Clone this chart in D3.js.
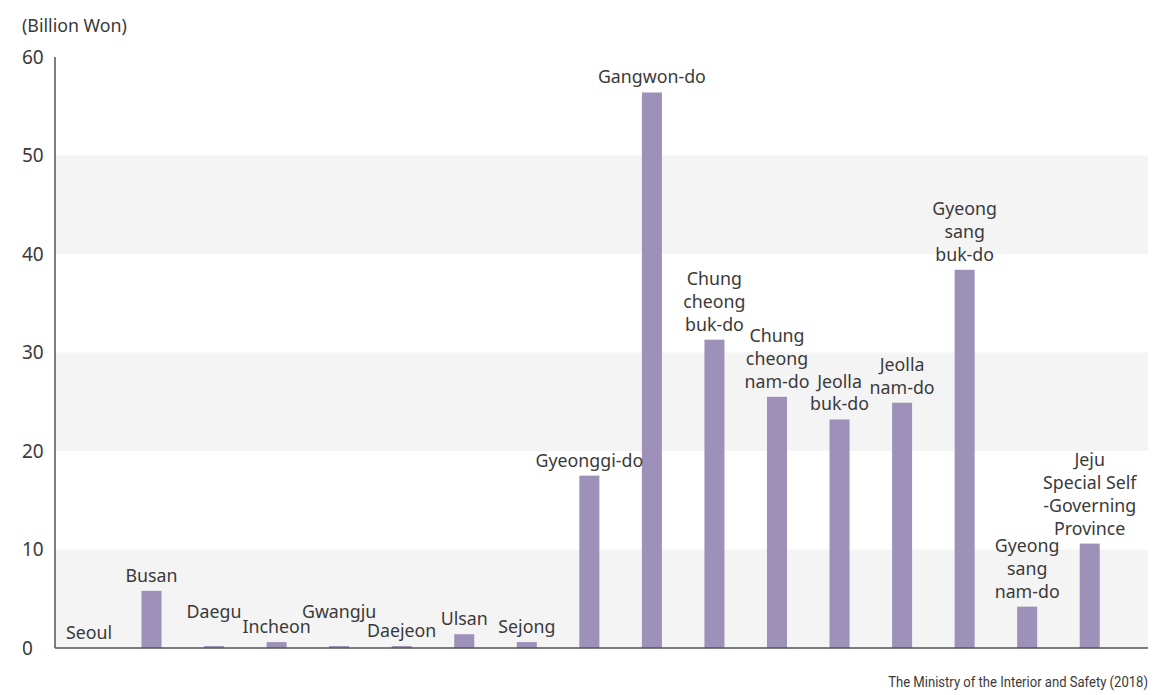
<!DOCTYPE html>
<html>
<head>
<meta charset="utf-8">
<script src="https://cdn.jsdelivr.net/npm/d3@7"></script>
<style>
  html, body { margin: 0; padding: 0; background: #fff; }
  svg { display: block; font-family: "Noto Sans", "Open Sans", sans-serif; }
</style>
</head>
<body>
<svg id="chart" width="1159" height="695"></svg>
<script>
// Regional amounts, in billion won
const regions = [
  "Seoul", "Busan", "Daegu", "Incheon", "Gwangju", "Daejeon", "Ulsan", "Sejong",
  "Gyeonggi-do", "Gangwon-do", "Chungcheongbuk-do", "Chungcheongnam-do",
  "Jeollabuk-do", "Jeollanam-do", "Gyeongsangbuk-do", "Gyeongsangnam-do", "Jeju"
];
const amounts = [0, 5.8, 0.2, 0.6, 0.2, 0.2, 1.4, 0.6, 17.5, 56.4, 31.3, 25.5, 23.2, 24.9, 38.4, 4.2, 10.6];
const barLabels = [
  ["Seoul"], ["Busan"], ["Daegu"], ["Incheon"], ["Gwangju"], ["Daejeon"], ["Ulsan"], ["Sejong"],
  ["Gyeonggi-do"], ["Gangwon-do"], ["Chung", "cheong", "buk-do"], ["Chung", "cheong", "nam-do"],
  ["Jeolla", "buk-do"], ["Jeolla", "nam-do"], ["Gyeong", "sang", "buk-do"], ["Gyeong", "sang", "nam-do"],
  ["Jeju", "Special Self", "-Governing", "Province"]
];
const yTicks = [0, 10, 20, 30, 40, 50, 60];
const unitLabel = "(Billion Won)";
const sourceNote = "The Ministry of the Interior and Safety (2018)";

// Extra lift (px) for labels that would collide with their neighbours
const labelLift = { "Daegu": 19, "Gwangju": 19 };

const svg = d3.select("#chart");
const plot = { left: 55, right: 1148, top: 57, bottom: 648 };
const textColor = "#3a3a3a";

const x = d3.scaleBand()
  .domain(regions)
  .range([57.7, 1121])
  .paddingInner(0.68)
  .paddingOuter(0.34);

const y = d3.scaleLinear().domain([0, 60]).range([plot.bottom, plot.top]);

// Alternating background bands
const bands = d3.pairs(yTicks).filter((_, i) => i % 2 === 0);
svg.append("g").selectAll("rect")
  .data(bands)
  .join("rect")
  .attr("x", plot.left)
  .attr("width", plot.right - plot.left)
  .attr("y", d => y(d[1]))
  .attr("height", d => y(d[0]) - y(d[1]))
  .attr("fill", "#f4f4f4");

// Bars
svg.append("g").selectAll("rect")
  .data(regions)
  .join("rect")
  .attr("x", d => x(d))
  .attr("width", x.bandwidth())
  .attr("y", (d, i) => y(amounts[i]))
  .attr("height", (d, i) => y(0) - y(amounts[i]))
  .attr("fill", "#9d91b9");

// Axis lines
svg.append("line")
  .attr("x1", plot.left).attr("x2", plot.left)
  .attr("y1", plot.top).attr("y2", plot.bottom)
  .attr("stroke", "#555").attr("stroke-width", 1.5);
svg.append("line")
  .attr("x1", plot.left).attr("x2", plot.right)
  .attr("y1", plot.bottom).attr("y2", plot.bottom)
  .attr("stroke", "#555").attr("stroke-width", 1.5);

// Y tick labels
const yAxis = svg.append("g")
  .attr("transform", `translate(${plot.left},0)`)
  .call(d3.axisLeft(y).tickValues(yTicks).tickSize(0).tickFormat(d3.format("d")));
yAxis.select(".domain").remove();
yAxis.selectAll("text")
  .attr("x", 22 - plot.left)
  .attr("text-anchor", "start")
  .attr("font-family", "Noto Sans")
  .attr("font-size", 19)
  .attr("fill", textColor);

// Unit label
svg.append("text")
  .attr("x", 22).attr("y", 32)
  .attr("font-size", 17.8)
  .attr("fill", textColor)
  .text(unitLabel);

// Bar labels
const lineH = 22.8;
const lbl = svg.append("g")
  .attr("font-size", 17.8)
  .attr("fill", textColor)
  .attr("text-anchor", "middle");
regions.forEach((r, i) => {
  const lines = barLabels[i];
  const base = y(amounts[i]) - 9 - (labelLift[r] || 0);
  const cx = x(r) + x.bandwidth() / 2;
  const t = lbl.append("text")
    .attr("x", cx)
    .attr("y", base - (lines.length - 1) * lineH);
  lines.forEach((s, j) => {
    t.append("tspan")
      .attr("x", cx)
      .attr("dy", j === 0 ? 0 : lineH)
      .text(s);
  });
});

// Source note, horizontally condensed to fit its slot
const src = svg.append("text")
  .attr("x", 0).attr("y", 0)
  .attr("text-anchor", "end")
  .attr("font-family", "Roboto")
  .attr("font-size", 14)
  .attr("fill", textColor)
  .text(sourceNote);
const natural = src.node().getComputedTextLength();
src.attr("transform", `translate(1148,687) scale(${260 / natural},1)`);
</script>
</body>
</html>
